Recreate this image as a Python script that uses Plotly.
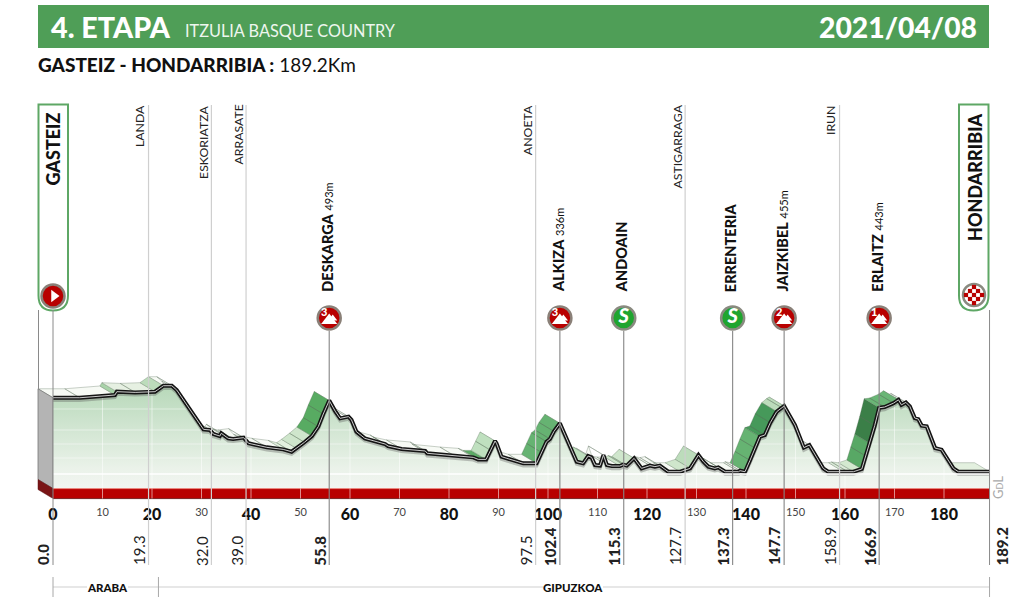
import numpy as np
import plotly.graph_objects as go

# ---------- data ----------
km = [0, 5.4, 12.5, 12.9, 16.6, 20.6, 22.3, 24, 25, 27.7, 30.4, 31.7, 32.4, 33.7, 34, 35.4, 36.4, 38.5, 39.5, 43.2,
      46.5, 48.2, 49.2, 50.8, 52.3, 53.6, 54.6, 55.8, 57, 58, 59.7, 60.3, 61.3, 63, 67.1, 67.7, 70.4, 75.2, 75.6,
      81.2, 84.9, 85.9, 87.5, 88.4, 89.3, 89.6, 90.6, 91.7, 95, 97.7, 98.7, 99.7, 100.4, 101.2, 102.4, 105.8, 107.1,
      108.1, 108.8, 109.5, 110.5, 111.2, 111.9, 112.9, 114.5, 115.2, 115.9, 117.4, 118.9, 120.6, 121.6, 122.6, 124.3,
      126.7, 128.7, 130.4, 131.4, 132.4, 133.7, 134.4, 135.8, 138.5, 138.8, 139.8, 140.8, 141.8, 142.8, 143.8, 144.9,
      146.2, 147.2, 147.7, 149.9, 151.7, 152.8, 155.6, 156.6, 159.7, 160.3, 161.7, 163.4, 164.2, 165, 166, 166.9, 168,
      169.8, 170.8, 171.4, 172.3, 173.1, 174.1, 174.8, 175.5, 176.5, 178.2, 179.5, 181.9, 182.9, 189.2]
elev = [512, 512, 531, 554, 549, 554, 595, 595, 565, 428, 294, 290, 262, 248, 267, 232, 228, 237, 198, 170,
        156, 140, 163, 205, 248, 313, 400, 493, 420, 370, 382, 359, 278, 232, 193, 179, 159, 145, 129,
        110, 101, 87, 87, 150, 214, 198, 106, 94, 60, 60, 135, 209, 228, 280, 336, 71, 60,
        110, 101, 48, 44, 117, 48, 41, 41, 51, 44, 94, 25, 44, 37, 44, 2,
        2, 25, 117, 71, 37, 25, 32, 2, 2, 9, 2, 80, 165, 244, 255, 340,
        416, 444, 455, 324, 168, 186, 25, 2, 2, 7, 2, 21, 110, 198, 320, 443, 448,
        475, 498, 463, 480, 452, 372, 365, 319, 315, 165, 154, 25, 2, 2]

band_start = [5, 11, 14, 19, 46, 50, 52.3, 85, 85.9, 87.5, 97.7, 99.7, 139.8, 142.8, 146.2, 161.7, 163.4, 165, 167, 170.8,
              107, 114.5, 126.7, 128.5, 182.9, 160]
band_end = [8, 14, 19, 23, 50, 52.3, 55.8, 85.9, 87.5, 89.3, 99.7, 102.4, 142.8, 146.2, 147.7, 163.4, 165, 167, 170.8, 171.4,
            108.1, 117.4, 128.5, 130.4, 189.2, 161.7]
band_color = ["#dcebd9", "#a9d3a9", "#e6f0e2", "#bcdcbb", "#e3f0df", "#cfe6cc", "#58ab62", "#cfe6cc", "#5cab66", "#bfe0bf",
              "#66b372", "#66b372", "#66b372", "#46995a", "#bcdcbb", "#d4e9d0", "#58a865", "#3b7f48", "#6ab676", "#bcdcbb",
              "#bfe0bf", "#cfe6cc", "#cfe6cc", "#bcdcbb", "#e3f0df", "#dcebd9"]

town_names = ["LANDA", "ESKORIATZA", "ARRASATE", "ANOETA", "ASTIGARRAGA", "IRUN"]
town_km = [19.3, 32.0, 39.0, 97.5, 127.7, 158.9]

climb_names = ["DESKARGA", "ALKIZA", "JAIZKIBEL", "ERLAITZ"]
climb_km = [55.8, 102.4, 147.7, 166.9]
climb_alt = ["493m", "336m", "455m", "443m"]
climb_cat = ["3", "3", "2", "1"]

sprint_names = ["ANDOAIN", "ERRENTERIA"]
sprint_km = [115.3, 137.3]

start_name, finish_name = "GASTEIZ", "HONDARRIBIA"
total_km = 189.2
major_ticks = [0, 20, 40, 60, 80, 100, 120, 140, 160, 180]
minor_ticks = [10, 30, 50, 70, 90, 110, 130, 150, 170]
region_names = ["ARABA", "GIPUZKOA"]
region_edges = [0, 21.3, 189.2]

# ---------- scale helpers ----------
W, H = 1024, 603
PX_KM, X0 = 4.95, 53.0
PX_M, Y0 = 0.145, 472.0
AXIS_PX = 498.5
def e_of(px): return (Y0 - px) / PX_M
def yp(px): return 1 - px / H
def xp(px): return px / W
def B(s): return f"<span style='font-weight:900'>{s}</span>"
XR = [(0 - X0) / PX_KM, (W - X0) / PX_KM]
YR = [e_of(AXIS_PX), e_of(0)]
BASE = e_of(488.5)
BOTTOM = e_of(AXIS_PX)
DK, DE = -15 / PX_KM, 9 / PX_M
FONT = "Lato"
GREEN = "#4f9e57"
RED = "#b80000"

fig = go.Figure()
def poly(xs, ys, color, line=None, w=0.5):
    fig.add_trace(go.Scatter(x=xs, y=ys, mode="lines", fill="toself", fillcolor=color,
                             line=dict(color=line or color, width=w), hoverinfo="skip"))

# ribbon (3D top face)
groups = {}
for i in range(len(km) - 1):
    mid = (km[i] + km[i + 1]) / 2
    col = "#f7faf5"
    for s, e, c in zip(band_start, band_end, band_color):
        if s <= mid < e:
            col = c
            break
    g = groups.setdefault(col, ([], []))
    g[0].extend([km[i], km[i + 1], km[i + 1] + DK, km[i] + DK, km[i], None])
    g[1].extend([elev[i], elev[i + 1], elev[i + 1] + DE, elev[i] + DE, elev[i], None])
for col, (xs, ys) in groups.items():
    poly(xs, ys, col, "rgba(90,110,90,0.55)", 0.6)

# side walls
poly([0, DK, DK, 0, 0], [elev[0], elev[0] + DE, BASE + DE, BASE, elev[0]], "#b4b4b4", "#777777", 0.8)
poly([0, DK, DK, 0, 0], [BASE, BASE + DE, BOTTOM + DE, BOTTOM, BASE], "#7a1416", "#5a1012", 0.5)

# front area with vertical gradient
fig.add_trace(go.Scatter(
    x=[0] + km + [km[-1], 0], y=[BASE] + elev + [BASE, BASE], mode="lines", fill="toself",
    fillgradient=dict(type="vertical", colorscale=[[0, "#f2f5f1"], [0.2, "#eaf2e9"], [1, "#b7d8b9"]]),
    line=dict(width=0), hoverinfo="skip"))

# faint grid inside the area
fine = np.linspace(0, total_km, 1500)
top = np.interp(fine, km, elev)
for px in [409, 430, 444, 458]:
    lv = e_of(px)
    fig.add_trace(go.Scatter(x=fine, y=np.where(top > lv + 3, lv, np.nan), mode="lines",
                             line=dict(color="rgba(255,255,255,0.45)", width=1), hoverinfo="skip"))
for t in sorted(major_ticks + minor_ticks)[1:]:
    fig.add_trace(go.Scatter(x=[t, t], y=[BASE, float(np.interp(t, km, elev)) - 4], mode="lines",
                             line=dict(color="rgba(255,255,255,0.5)", width=1), hoverinfo="skip"))

# profile line
fig.add_trace(go.Scatter(x=km, y=[v - 2.4 / PX_M for v in elev], mode="lines",
                         line=dict(color="rgba(90,90,90,0.35)", width=3.5), hoverinfo="skip"))
fig.add_trace(go.Scatter(x=km, y=elev, mode="lines", line=dict(color="#141414", width=4), hoverinfo="skip"))
fig.add_trace(go.Scatter(x=km, y=elev, mode="lines", line=dict(color="#cccccc", width=1), hoverinfo="skip"))

shapes = []
def rect(x0, y0, x1, y1, fill, line=None, lw=0, xref="paper", layer="above"):
    shapes.append(dict(type="rect", xref=xref, yref="paper", x0=x0, x1=x1, y0=yp(y0), y1=yp(y1), fillcolor=fill,
                       line=dict(color=line or fill, width=lw), layer=layer))
def vline(k, y0, y1, color, w=1):
    shapes.append(dict(type="line", xref="x", yref="paper", x0=k, x1=k, y0=yp(y0), y1=yp(y1),
                       line=dict(color=color, width=w), layer="above"))
def hline(x0, x1, y, color, w=1):
    shapes.append(dict(type="line", xref="x", yref="paper", x0=x0, x1=x1, y0=yp(y), y1=yp(y),
                       line=dict(color=color, width=w), layer="above"))

# header
rect(xp(38), 5, xp(989), 48, GREEN)
# red bar, white line
rect(0, 488.5, total_km, 498.5, RED, xref="x")
hline(0, total_km, 488.6, "#f08a80", 0.8)
hline(0, total_km, 498.6, "#5a0808", 0.8)
hline(0, total_km, 474, "#ffffff", 1.6)
for t in sorted(major_ticks + minor_ticks)[1:]:
    vline(t, 488.5, 498.5, "rgba(255,255,255,0.55)", 1)

# panels
for x0, x1 in [(38.5, 68), (959, 988.5)]:
    r = 15
    L, R, T, B_ = xp(x0), xp(x1), yp(104.5), yp(310.5)
    shapes.append(dict(type="path", xref="paper", yref="paper", layer="below",
        path=f"M {L},{T} L {R},{T} L {R},{yp(310.5 - r)} Q {R},{B_} {xp(x1 - r)},{B_} "
             f"Q {L},{B_} {L},{yp(310.5 - r)} Z",
        fillcolor="#ffffff", line=dict(color="#5ea765", width=2)))

# vertical markers
vline(0, 310, 565, "#8a8a8a", 1)
vline(total_km, 310, 565, "#8a8a8a", 1)
shapes.append(dict(type="line", xref="paper", yref="paper", x0=xp(38.5), x1=xp(38.5), y0=yp(310), y1=yp(390),
                   line=dict(color="#8a8a8a", width=1), layer="above"))
for k in town_km:
    vline(k, 105, 565, "#cfcfcf", 1.2)
for k in climb_km + sprint_km:
    vline(k, 331, 565, "#858585", 1.1)

# region bar
hline(0, total_km, 587, "#cfcfcf", 1)
for k in region_edges:
    vline(k, 577, 597, "#a8a8a8", 1)

# icons
ICON = e_of(318)
def markers(x, y, sym, size, color, line_c="rgba(0,0,0,0)", lw=0):
    fig.add_trace(go.Scatter(x=x, y=y, mode="markers", hoverinfo="skip", cliponaxis=False,
                             marker=dict(symbol=sym, size=size, color=color, line=dict(color=line_c, width=lw))))
markers(climb_km, [ICON] * 4, "circle", 23, RED, "#8a8078", 2.5)
markers(climb_km, [ICON - 2.5 / PX_M] * 4, "triangle-up", 14, "#ffffff")
markers([k + 3.5 / PX_KM for k in climb_km], [ICON - 0.5 / PX_M] * 4, "triangle-up", 8, "#ffffff")
fig.add_trace(go.Scatter(x=[k - 5 / PX_KM for k in climb_km], y=[ICON + 4.5 / PX_M] * 4, mode="text", text=climb_cat,
                         textfont=dict(family=FONT, size=11, color="white", weight=900),
                         hoverinfo="skip"))
markers(sprint_km, [ICON] * 2, "circle", 23, "#1fa52f", "#8a8a80", 2.5)
fig.add_trace(go.Scatter(x=sprint_km, y=[ICON] * 2, mode="text", text=["<i>S</i>"] * 2,
                         textfont=dict(family=FONT, size=20, color="white", weight=900), hoverinfo="skip"))
markers([0], [e_of(296)], "circle", 23, RED, "#8a8078", 2.5)
markers([0.2], [e_of(296)], "triangle-right", 11, "#ffffff")
FX, FY = (974 - X0) / PX_KM, e_of(295)
markers([FX], [FY], "circle", 22, "#ffffff", "#8a8a80", 2.5)
cx, cy = [], []
for i in range(-2, 3):
    for j in range(-2, 3):
        if abs(i) + abs(j) > 3 or (i + j) % 2:
            continue
        cx.append(FX + i * 4 / PX_KM)
        cy.append(FY + j * 4 / PX_M)
markers(cx, cy, "square", 4.2, RED)

# axis-less dummy for minor tick axis
fig.add_trace(go.Scatter(x=[0], y=[0], xaxis="x2", mode="markers", marker=dict(opacity=0), hoverinfo="skip"))

# texts
ann = []
def txt(x, y, text, size, color="#111111", xref="paper", xa="left", ya="middle", angle=0, xs=0, bg=None):
    ann.append(dict(x=x, y=yp(y), xref=xref, yref="paper", text=text, showarrow=False, xanchor=xa, yanchor=ya,
                    textangle=angle, xshift=xs, borderpad=0, borderwidth=0, bgcolor=bg,
                    font=dict(family=FONT, size=size, color=color)))
txt(xp(51), 27, B("4. ETAPA"), 28.7, "white")
txt(xp(185), 31, "ITZULIA BASQUE COUNTRY", 16.3, "#eef6ee")
txt(xp(977), 27, B("2021/04/08"), 28.3, "white", xa="right")
txt(xp(38), 65, B("GASTEIZ - HONDARRIBIA :") + " 189.2Km", 19)

txt(-0.2, 113, B(start_name), 18, xref="x", xa="center", ya="top", angle=-90)
txt((975 - X0) / PX_KM, 113, B(finish_name), 18, xref="x", xa="center", ya="top", angle=-90)

for n, k in zip(town_names, town_km):
    txt(k, 105, n, 12.3, "#222222", xref="x", xa="right", ya="top", angle=-90, xs=-1)
for n, k, a in zip(climb_names, climb_km, climb_alt):
    txt(k, 292, B(n) + f" <span style='font-size:11px'>{a}</span>", 14.5, xref="x", xa="center", ya="bottom",
        angle=-90, xs=-2)
for n, k in zip(sprint_names, sprint_km):
    txt(k, 292, B(n), 14.5, xref="x", xa="center", ya="bottom", angle=-90, xs=-2)

def dist(k, bold, right=False):
    s = f"{k:.1f}"
    txt(k, 565.5, B(s) if bold else s, 15, "#222222", xref="x", xa="left" if right else "right",
        ya="bottom", angle=-90, xs=3 if right else -1)
dist(0.0, True)
dist(total_km, True, right=True)
for k in town_km:
    dist(k, False)
for k in climb_km + sprint_km:
    dist(k, True)

txt((107.5 - X0) / PX_KM, 587.5, B(region_names[0]), 11.5, xref="x", xa="center", bg="#ffffff")
txt((573 - X0) / PX_KM, 587.5, B(region_names[1]), 11.5, xref="x", xa="center", bg="#ffffff")
txt((998 - X0) / PX_KM, 488, "G<span style='font-size:9px'>D</span>L", 13, "#aaaaaa", xref="x", xa="center", angle=-90)

common = dict(range=XR, showgrid=False, zeroline=False, showline=False, ticks="outside",
              tickcolor="rgba(0,0,0,0)", tickmode="array", fixedrange=True)
fig.update_layout(
    width=W, height=H, margin=dict(l=0, r=0, t=0, b=0), autosize=False, showlegend=False,
    paper_bgcolor="white", plot_bgcolor="white", shapes=shapes, annotations=ann,
    xaxis=dict(**common, anchor="y", tickvals=major_ticks, ticktext=[str(t) for t in major_ticks], ticklen=1,
               tickfont=dict(family=FONT, size=16, color="#111111", weight=900)),
    xaxis2=dict(**common, anchor="y", overlaying="x", side="bottom", tickvals=minor_ticks,
                ticktext=[str(t) for t in minor_ticks], ticklen=3,
                tickfont=dict(family=FONT, size=11, color="#444444")),
    yaxis=dict(range=YR, domain=[1 - AXIS_PX / H, 1], visible=False, fixedrange=True),
)
fig.write_html("out.html", config=dict(displayModeBar=False),
               post_script="document.body.style.margin='0';document.body.style.overflow='hidden';")
